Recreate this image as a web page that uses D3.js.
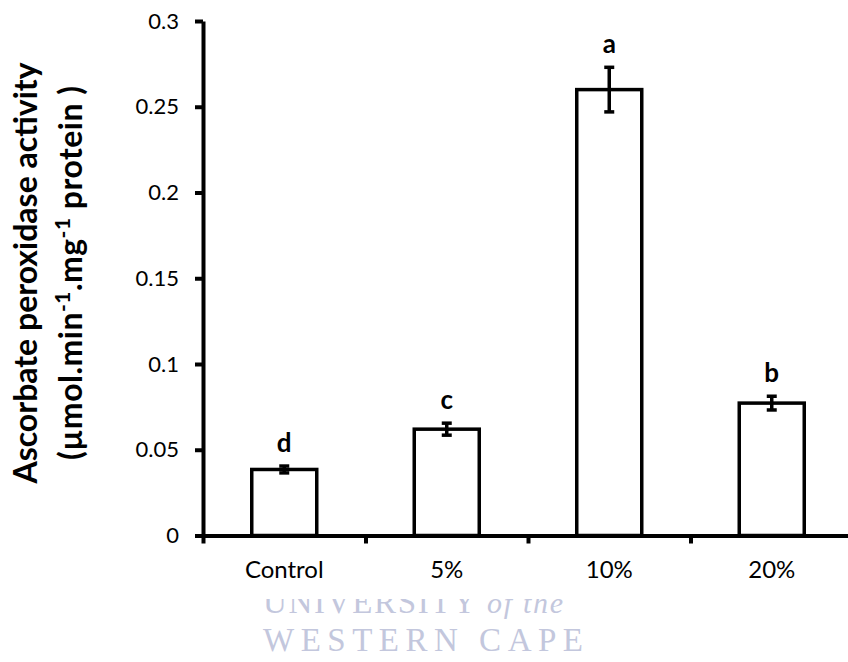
<!DOCTYPE html>
<html>
<head>
<meta charset="utf-8">
<script src="https://cdn.jsdelivr.net/npm/d3@7"></script>
<style>
  body { margin: 0; background: #fff; }
  svg { display: block; }
</style>
</head>
<body>
<svg id="chart" width="848" height="662"></svg>
<script>
// data
var categories = ["Control", "5%", "10%", "20%"];
var activity = [0.0385, 0.062, 0.260, 0.0772];
var stdErr = [0.002, 0.0035, 0.013, 0.004];
var letters = ["d", "c", "a", "b"];
var yTicks = [0, 0.05, 0.1, 0.15, 0.2, 0.25, 0.3];

var svg = d3.select("#chart");
var plotLeft = 203, plotRight = 853, plotTop = 21, plotBottom = 535.5;

var x = d3.scaleBand().domain(categories).range([plotLeft, plotRight])
  .paddingInner(0.6).paddingOuter(0.3);
var y = d3.scaleLinear().domain([0, 0.3]).range([plotBottom, plotTop]);
// category boundaries for the x ticks
var xEdge = d3.scaleLinear().domain([0, categories.length]).range([plotLeft, plotRight]);

// watermark (bottom, partly hidden)
svg.append("clipPath").attr("id", "wmclip")
  .append("rect").attr("x", 0).attr("y", 599).attr("width", 848).attr("height", 63);
var wm = svg.append("g").attr("clip-path", "url(#wmclip)")
  .style("font-family", "'Liberation Serif', 'DejaVu Serif', serif")
  .attr("fill", "#c3c7dd");
var wm1 = wm.append("text").attr("x", 263).attr("y", 613).style("font-size", "33px")
  .attr("textLength", 300).attr("lengthAdjust", "spacing");
wm1.append("tspan").text("UNIVERSITY");
wm1.append("tspan").style("font-style", "italic").style("font-size", "30px").text(" of the");
wm.append("text").attr("x", 263).attr("y", 651).style("font-size", "33px")
  .attr("textLength", 320).attr("lengthAdjust", "spacing").text("WESTERN CAPE");

// bars
svg.append("g").selectAll("rect").data(activity).enter().append("rect")
  .attr("x", function(d, i){ return x(categories[i]); })
  .attr("y", function(d){ return y(d); })
  .attr("width", x.bandwidth())
  .attr("height", function(d){ return plotBottom - y(d); })
  .attr("fill", "#fff").attr("stroke", "#000").attr("stroke-width", 3.5);

// error bars
var eb = svg.append("g").attr("stroke", "#000").attr("stroke-width", 3.5);
activity.forEach(function(d, i){
  var cx = x(categories[i]) + x.bandwidth()/2;
  var y1 = y(d + stdErr[i]), y2 = y(d - stdErr[i]);
  eb.append("line").attr("x1", cx).attr("x2", cx).attr("y1", y1).attr("y2", y2);
  eb.append("line").attr("x1", cx-5).attr("x2", cx+5).attr("y1", y1).attr("y2", y1);
  eb.append("line").attr("x1", cx-5).attr("x2", cx+5).attr("y1", y2).attr("y2", y2);
});

// significance letters
svg.append("g").selectAll("text").data(letters).enter().append("text")
  .attr("x", function(d, i){ return x(categories[i]) + x.bandwidth()/2; })
  .attr("y", function(d, i){ return y(activity[i] + stdErr[i]) - 14; })
  .attr("text-anchor", "middle")
  .style("font-family", "Lato, sans-serif").style("font-weight", "bold").style("font-size", "26px")
  .text(function(d){ return d; });

// y axis
var yAxis = svg.append("g").attr("transform", "translate(" + plotLeft + ",0)")
  .call(d3.axisLeft(y).tickValues(yTicks).tickSize(8).tickSizeOuter(0).tickPadding(16)
    .tickFormat(function(d){ return String(+d.toFixed(2)); }));
yAxis.selectAll("text").style("font-family", "Lato, sans-serif").style("font-size", "22px").attr("fill", "#000");

// x axis: boundary ticks + category labels
var xAxis = svg.append("g").attr("transform", "translate(0," + plotBottom + ")")
  .call(d3.axisBottom(xEdge).ticks(categories.length).tickSize(8).tickSizeOuter(0).tickFormat(""));
var xLab = svg.append("g").attr("transform", "translate(0," + plotBottom + ")")
  .call(d3.axisBottom(x).tickSize(0).tickPadding(25));
xLab.select(".domain").remove();
xLab.selectAll("text").style("font-family", "Lato, sans-serif").style("font-size", "24px").attr("fill", "#000");

svg.selectAll(".domain").attr("stroke-width", 4);
svg.selectAll(".tick line").attr("stroke-width", 4);

// y title, two lines, rotated
var title = svg.append("g").attr("transform", "translate(0,273) rotate(-90)")
  .style("font-family", "Lato, sans-serif").style("font-weight", "bold").style("font-size", "32px");
title.append("text").attr("x", 0).attr("y", 37).attr("text-anchor", "middle")
  .text("Ascorbate peroxidase activity");
var t2 = title.append("text").attr("x", -187).attr("y", 82)
  .attr("textLength", 374).attr("lengthAdjust", "spacing");
t2.append("tspan").text("(µmol.min");
t2.append("tspan").attr("dy", -12).style("font-size", "21px").text("-1");
t2.append("tspan").attr("dy", 12).text(".mg");
t2.append("tspan").attr("dy", -12).style("font-size", "21px").text("-1");
t2.append("tspan").attr("dy", 12).text(" protein )");
</script>
</body>
</html>
